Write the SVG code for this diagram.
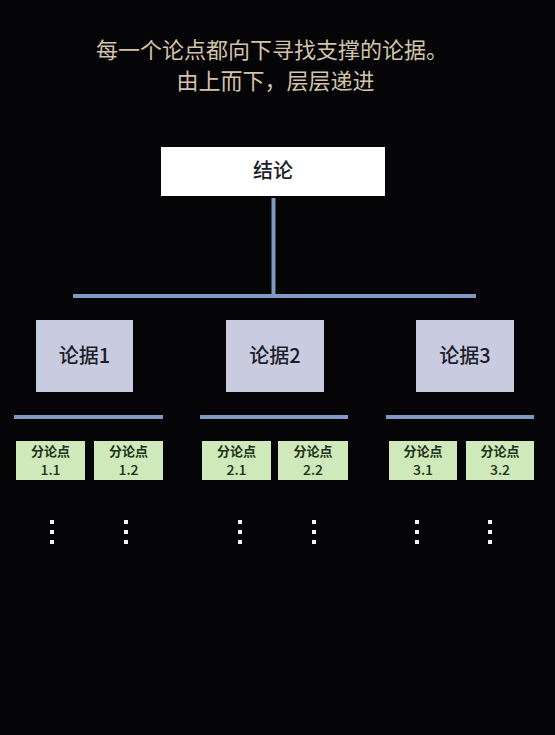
<svg xmlns="http://www.w3.org/2000/svg" width="555" height="735" viewBox="0 0 555 735">
<style>
.title{font-family:"Noto Sans CJK SC","Noto Sans",sans-serif;font-size:22px;fill:#d2c3aa;text-anchor:middle}
.top{fill:#ffffff}
.mid{fill:#c9cce0}
.leaf{fill:#cfe9bb}
.t1{font-family:"Noto Sans CJK SC","Liberation Sans",sans-serif;font-size:20px;font-weight:500;fill:#1c1f2a;text-anchor:middle}
.t2{font-family:"Noto Sans CJK SC","Liberation Sans",sans-serif;font-size:13px;font-weight:bold;fill:#1f3318;text-anchor:middle}
.t3{font-family:"Noto Sans CJK SC","Liberation Sans",sans-serif;font-size:14px;font-weight:500;fill:#1f3318;text-anchor:middle}
.ln{stroke:#8098c4;stroke-width:4;fill:none}
.dot{fill:#f2f2f2}
</style>
<rect width="555" height="735" fill="#050407"/>
<g id="title">
<text class="title" x="272" y="58">每一个论点都向下寻找支撑的论据。</text>
<text class="title" x="275.5" y="89">由上而下，层层递进</text>
</g>
<g id="connectors">
<line class="ln" x1="273.5" y1="198" x2="273.5" y2="296"/>
<line class="ln" x1="73" y1="296" x2="476" y2="296"/>
<line class="ln" x1="14" y1="417" x2="163" y2="417"/>
<line class="ln" x1="200" y1="417" x2="348" y2="417"/>
<line class="ln" x1="386" y1="417" x2="534" y2="417"/>
</g>
<g id="n-conclusion">
<rect class="top" x="161" y="147" width="224" height="49"/>
<text class="t1" x="273" y="178">结论</text>
</g>
<g id="n-arg1">
<rect class="mid" x="36" y="320" width="97" height="72"/>
<text class="t1" x="84.5" y="363">论据1</text>
</g>
<g id="n-arg2">
<rect class="mid" x="226" y="320" width="98" height="72"/>
<text class="t1" x="275" y="363">论据2</text>
</g>
<g id="n-arg3">
<rect class="mid" x="416" y="320" width="98" height="72"/>
<text class="t1" x="465" y="363">论据3</text>
</g>
<g id="n-1-1">
<rect class="leaf" x="16" y="441" width="69" height="39"/>
<text class="t2" x="50.5" y="456">分论点</text>
<text class="t3" x="50.5" y="474.5">1.1</text>
</g>
<g id="n-1-2">
<rect class="leaf" x="94" y="441" width="69" height="39"/>
<text class="t2" x="128.5" y="456">分论点</text>
<text class="t3" x="128.5" y="474.5">1.2</text>
</g>
<g id="n-2-1">
<rect class="leaf" x="202" y="441" width="69" height="39"/>
<text class="t2" x="236.5" y="456">分论点</text>
<text class="t3" x="236.5" y="474.5">2.1</text>
</g>
<g id="n-2-2">
<rect class="leaf" x="278" y="441" width="70" height="39"/>
<text class="t2" x="313" y="456">分论点</text>
<text class="t3" x="313" y="474.5">2.2</text>
</g>
<g id="n-3-1">
<rect class="leaf" x="389" y="441" width="68" height="39"/>
<text class="t2" x="423" y="456">分论点</text>
<text class="t3" x="423" y="474.5">3.1</text>
</g>
<g id="n-3-2">
<rect class="leaf" x="466" y="441" width="68" height="39"/>
<text class="t2" x="500" y="456">分论点</text>
<text class="t3" x="500" y="474.5">3.2</text>
</g>
<defs>
<g id="dots">
<rect class="dot" x="-2" y="-2" width="4" height="4"/>
<rect class="dot" x="-2" y="8" width="4" height="4"/>
<rect class="dot" x="-2" y="18" width="4" height="4"/>
</g>
</defs>
<g id="ellipses">
<use href="#dots" x="52" y="522"/>
<use href="#dots" x="126" y="522"/>
<use href="#dots" x="240" y="522"/>
<use href="#dots" x="314" y="522"/>
<use href="#dots" x="417" y="522"/>
<use href="#dots" x="490" y="522"/>
</g>
</svg>
